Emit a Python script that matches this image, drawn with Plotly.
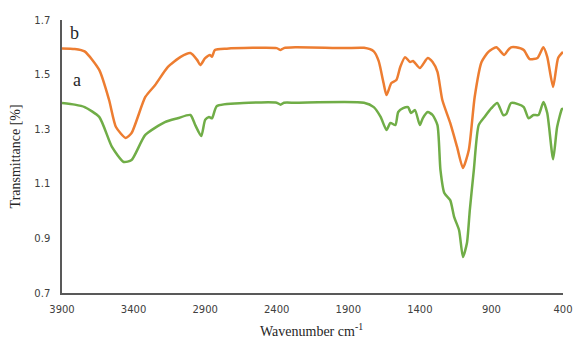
import plotly.graph_objects as go

# Spectrum b (orange)
wn_b = [3900, 3811, 3742, 3640, 3571, 3523, 3455, 3414, 3318, 3249, 3160, 3071, 3003, 2955,
        2934, 2900, 2866, 2852, 2832, 2749, 2400, 2373, 2350, 2270, 1927, 1790, 1722, 1688,
        1654, 1633, 1599, 1564, 1537, 1503, 1468, 1448, 1400, 1345, 1311, 1277, 1243, 1188,
        1140, 1099, 1058, 1017, 969, 921, 866, 811, 784, 763, 729, 674, 633, 578, 537, 510,
        469, 434, 400]
tr_b = [1.596, 1.594, 1.585, 1.517, 1.407, 1.308, 1.268, 1.286, 1.418, 1.462, 1.528, 1.565,
        1.579, 1.553, 1.535, 1.560, 1.572, 1.565, 1.590, 1.595, 1.597, 1.590, 1.597, 1.600,
        1.597, 1.598, 1.585, 1.550, 1.470, 1.425, 1.469, 1.480, 1.528, 1.564, 1.546, 1.550,
        1.524, 1.561, 1.546, 1.510, 1.407, 1.323, 1.235, 1.158, 1.224, 1.418, 1.546, 1.583,
        1.600, 1.572, 1.590, 1.600, 1.600, 1.590, 1.557, 1.561, 1.600, 1.565, 1.455, 1.561,
        1.583]

# Spectrum a (green)
wn_a = [3900, 3811, 3742, 3640, 3551, 3469, 3414, 3318, 3181, 3092, 3003, 2969, 2927, 2900,
        2873, 2852, 2818, 2633, 2400, 2373, 2350, 2270, 1790, 1722, 1674, 1633, 1606, 1571,
        1551, 1517, 1482, 1462, 1434, 1400, 1380, 1345, 1311, 1277, 1256, 1229, 1188, 1160,
        1126, 1099, 1071, 1051, 1023, 989, 948, 900, 859, 818, 797, 763, 715, 674, 640, 606,
        571, 537, 510, 469, 441, 407, 400]
tr_a = [1.396, 1.390, 1.381, 1.345, 1.235, 1.180, 1.187, 1.279, 1.326, 1.340, 1.352, 1.315,
        1.275, 1.334, 1.345, 1.340, 1.385, 1.396, 1.397, 1.390, 1.397, 1.397, 1.397, 1.381,
        1.345, 1.297, 1.323, 1.315, 1.363, 1.377, 1.381, 1.359, 1.370, 1.315, 1.340, 1.363,
        1.352, 1.315, 1.150, 1.066, 1.040, 0.978, 0.930, 0.832, 0.883, 1.004, 1.150, 1.315,
        1.345, 1.377, 1.396, 1.352, 1.355, 1.396, 1.392, 1.381, 1.340, 1.352, 1.352, 1.400,
        1.359, 1.190, 1.308, 1.374, 1.375]

x_ticks = [3900, 3400, 2900, 2400, 1900, 1400, 900, 400]
y_ticks = [0.7, 0.9, 1.1, 1.3, 1.5, 1.7]

fig = go.Figure()
fig.add_trace(go.Scatter(x=wn_a, y=tr_a, mode="lines", name="a",
                         line=dict(color="#70AD47", width=2.5, shape="spline", smoothing=0.6)))
fig.add_trace(go.Scatter(x=wn_b, y=tr_b, mode="lines", name="b",
                         line=dict(color="#ED7D31", width=2.5, shape="spline", smoothing=0.6)))

serif = "Liberation Serif, Times New Roman, serif"
fig.update_layout(
    width=584, height=350,
    margin=dict(l=62, r=11, t=20, b=57),
    paper_bgcolor="white", plot_bgcolor="white",
    showlegend=False,
    font=dict(family="DejaVu Sans", size=10, color="#404040"),
    xaxis=dict(range=[3900, 400], tickvals=x_ticks, ticktext=[str(v) for v in x_ticks],
               showgrid=False, zeroline=False, showline=True, linecolor="#595959", linewidth=1.5,
               ticks="", ticklabelstandoff=6),
    yaxis=dict(range=[0.7, 1.7], tickvals=y_ticks, ticktext=[f"{v:.1f}" for v in y_ticks],
               showgrid=False, zeroline=False, showline=True, linecolor="#595959", linewidth=1.5,
               ticks="", ticklabelstandoff=8),
    annotations=[
        dict(text="Wavenumber cm<sup>-1</sup>", xref="paper", yref="paper", x=0.499, y=-0.135,
             xanchor="center", yanchor="middle", showarrow=False,
             font=dict(family=serif, size=14, color="#262626")),
        dict(text="Transmittance [%]", xref="paper", yref="paper", x=-0.092, y=0.5,
             xanchor="center", yanchor="middle", textangle=-90, showarrow=False,
             font=dict(family=serif, size=14, color="#262626")),
        dict(text="b", x=3811, y=1.652, xref="x", yref="y", showarrow=False,
             xanchor="center", yanchor="middle", font=dict(family=serif, size=18, color="#262626")),
        dict(text="a", x=3797, y=1.48, xref="x", yref="y", showarrow=False,
             xanchor="center", yanchor="middle", font=dict(family=serif, size=18, color="#262626")),
    ],
)

fig.write_html("out.html")
